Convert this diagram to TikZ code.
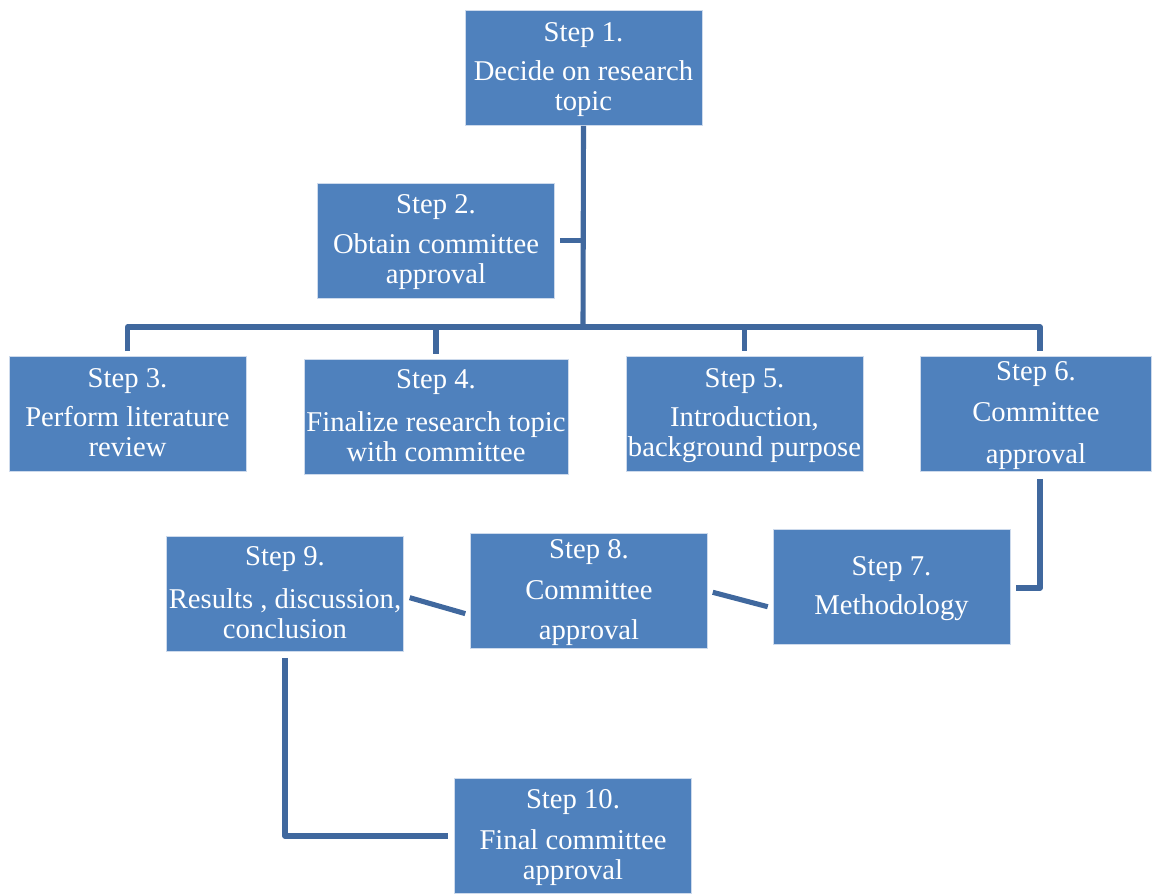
\documentclass[tikz,border=0pt]{standalone}
\usepackage{fontspec}
\setmainfont{Liberation Serif}
\usepackage{xcolor}
\usepackage{tikz}

\definecolor{boxblue}{RGB}{79,129,189}
\definecolor{lineblue}{RGB}{64,104,158}
\definecolor{boxedge}{RGB}{205,218,236}

\begin{document}
\begin{tikzpicture}[x=0.02cm, y=-0.02cm,
    stepbox/.style={draw=boxedge, line width=0.5pt, fill=boxblue, text=white,
        minimum width=4.74cm, minimum height=2.3cm, inner sep=0pt, align=center,
        text depth=0.06cm, font=\fontsize{16.3pt}{17pt}\selectfont},
    link/.style={draw=lineblue, line width=2.9pt}]

    \useasboundingbox (0,0) rectangle (1152,893);

    \node[stepbox] (s1) at (583.5,68) {Step 1.\\[5.7pt]Decide on research\\topic};
    \node[stepbox] (s2) at (436,240.5) {Step 2.\\[5.7pt]Obtain committee\\approval};

    \node[stepbox] (s3) at (127.5,414) {Step 3.\\[5.7pt]Perform literature\\review};
    \node[stepbox, minimum width=5.28cm] (s4) at (436,417) {Step 4.\\[7pt]Finalize research topic\\with committee};
    \node[stepbox] (s5) at (744.5,414) {Step 5.\\[5.7pt]Introduction,\\background purpose};
    \node[stepbox, minimum width=4.62cm] (s6) at (1036,414) {Step 6.\\[6.2pt]Committee\\[7pt]approval};

    \node[stepbox] (s7) at (891.5,587) {Step 7.\\[5.7pt]Methodology};
    \node[stepbox] (s8) at (589,591) {Step 8.\\[6.2pt]Committee\\[6.2pt]approval};
    \node[stepbox] (s9) at (285,594) {Step 9.\\[7pt]Results , discussion,\\conclusion};
    \node[stepbox] (s10) at (573,836) {Step 10.\\[6.5pt]Final committee\\approval};

    \coordinate (hub) at (583,327);

    % top part
    \draw[link] (s1.south) -- (hub);
    \draw[link, shorten <=0.1cm] (s2.east) -- (s2.east -| hub);
    \draw[link, line join=round, shorten <=0.1cm, shorten >=0.1cm]
        (s3.north) -- (s3.north |- hub) -- ([xshift=0.08cm]s6.north |- hub) -- ([xshift=0.08cm]s6.north);
    \foreach \n in {s4,s5}{
        \draw[link, shorten >=0.1cm] (\n.north |- hub) -- (\n.north);
    }

    % lower part
    \draw[link, line join=round, shorten <=0.14cm, shorten >=0.12cm]
        ([xshift=0.08cm]s6.south) |- ([yshift=-0.02cm]s7.east);
    \draw[link, shorten <=0.1cm, shorten >=0.1cm] (s8.east) -- ([yshift=-0.42cm]s7.west);
    \draw[link, shorten <=0.12cm, shorten >=0.1cm] ([yshift=-0.04cm]s9.east) -- ([yshift=-0.48cm]s8.west);
    \draw[link, line join=round, shorten <=0.12cm, shorten >=0.12cm] (s9.south) |- (s10.west);

\end{tikzpicture}
\end{document}
